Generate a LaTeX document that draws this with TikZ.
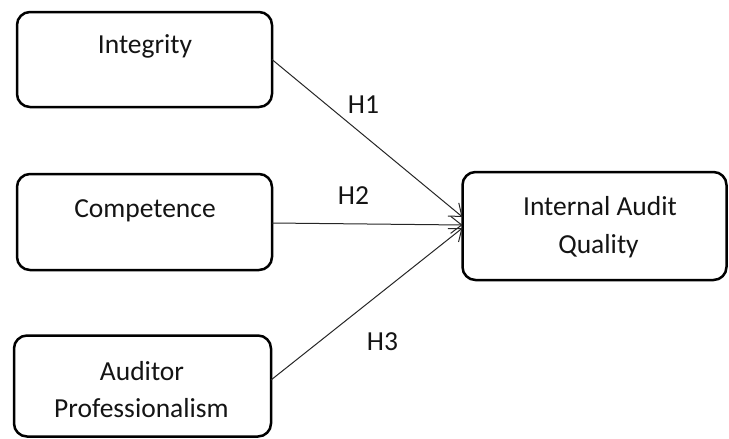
\documentclass[tikz,border=0pt]{standalone}
\usepackage{fontspec}
\setmainfont{Carlito}
\usetikzlibrary{arrows.meta}
\begin{document}
\begin{tikzpicture}[x=1pt,y=-1pt,
  box/.style={draw=black,line width=2.5pt,rounded corners=13pt,inner sep=0pt,outer sep=0pt},
  txt/.style={anchor=base,inner sep=0pt,font=\fontsize{27.5}{37.5}\selectfont,text=black!92},
  link/.style={draw=black!85,line width=1pt,-{Straight Barb[length=11pt,width=17pt,line width=1pt]}}]
\useasboundingbox (0,0) rectangle (729,439);
\node[box,minimum width=255pt,minimum height=95pt] (integ) at (144.5,59.5) {};
\node[box,minimum width=255pt,minimum height=96pt] (comp) at (144.5,222) {};
\node[box,minimum width=257pt,minimum height=101pt] (aud) at (142.5,386) {};
\node[box,minimum width=264pt,minimum height=108pt] (iaq) at (594.5,226) {};
\node[txt] (tinteg) at (145,53) {Integrity};
\node[txt] (tcomp) at (145,217) {Competence};
\node[txt] (taud1) at (142,380) {Auditor};
\node[txt] (taud2) at (141.5,417) {Professionalism};
\node[txt] (tiaq1) at (600,215) {Internal Audit};
\node[txt] (tiaq2) at (598.5,253) {Quality};
\node[txt] (h1) at (363.5,113) {H1};
\node[txt] (h2) at (353.5,204) {H2};
\node[txt] (h3) at (382.5,350) {H3};
\coordinate (e1) at ([yshift=9pt]iaq.west);
\coordinate (e2) at ([yshift=1pt]iaq.west);
\coordinate (e3) at ([yshift=-2pt]iaq.west);
\draw[link] (integ.east) -- (e1);
\draw[link] ([yshift=-1pt]comp.east) -- (e2);
\draw[link] ([yshift=6pt]aud.east) -- (e3);
\end{tikzpicture}
\end{document}
